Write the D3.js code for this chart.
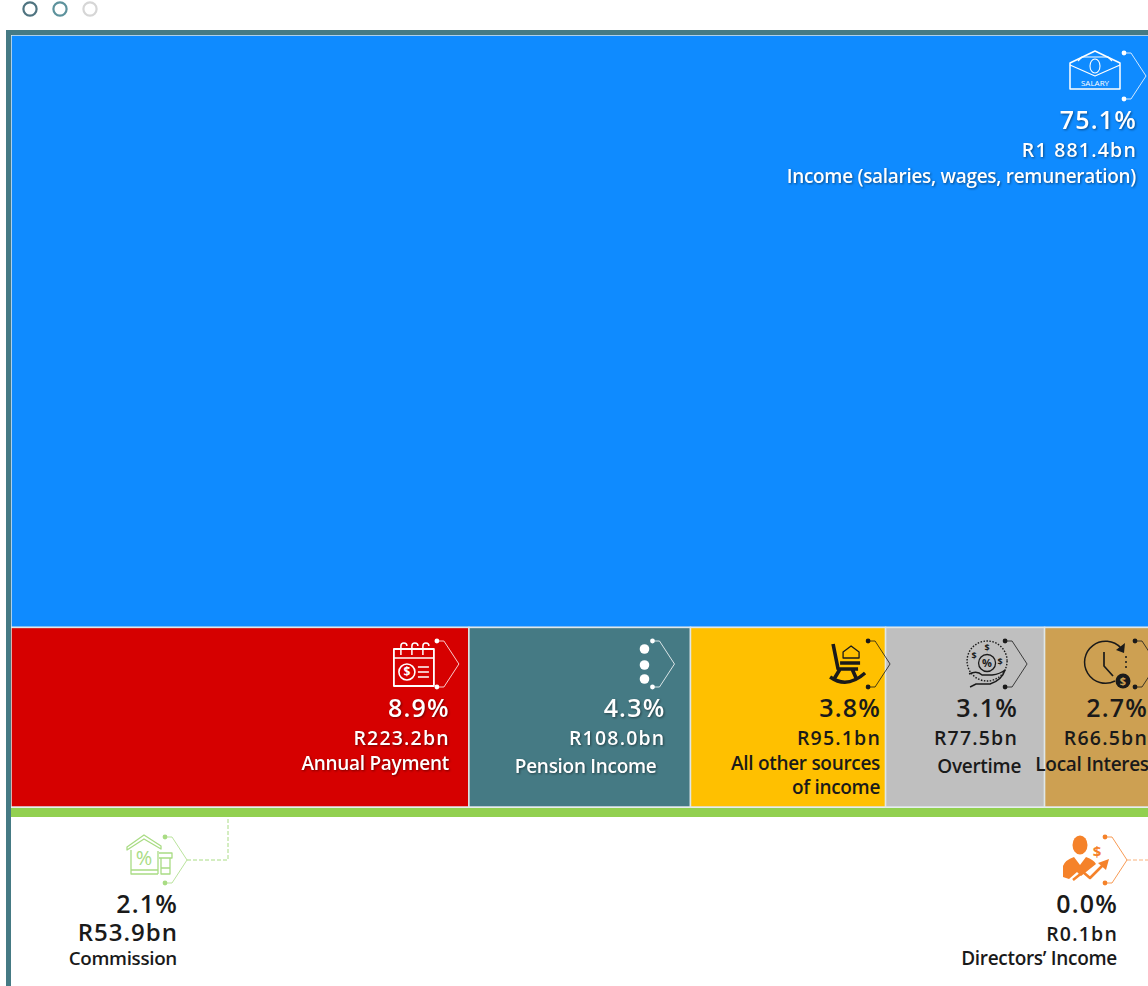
<!DOCTYPE html>
<html>
<head>
<meta charset="utf-8">
<script src="https://cdn.jsdelivr.net/npm/d3@7"></script>
<style>
  html, body { margin: 0; padding: 0; background: #fff; overflow: hidden; }
  svg { display: block; font-family: "Open Sans", "Noto Sans", sans-serif; }
  .lifted { filter: drop-shadow(1px 1px 1px rgba(0,0,0,.45)); }
</style>
</head>
<body>
<svg id="chart" width="1148" height="986"></svg>
<script>
// Income sources, R billion
const topSource = "Income (salaries, wages, remuneration)";
const topAmount = 1881.4;
const topShare = "75.1%";
const topAmountLabel = "R1 881.4bn";

const rowSources = ["Annual Payment", "Pension Income", "All other sources of income", "Overtime", "Local Interest"];
const rowAmounts = [223.2, 108.0, 95.1, 77.5, 66.5];
const rowShares = ["8.9%", "4.3%", "3.8%", "3.1%", "2.7%"];
const rowAmountLabels = ["R223.2bn", "R108.0bn", "R95.1bn", "R77.5bn", "R66.5bn"];

const smallSources = ["Commission", "Directors\u2019 Income"];
const smallShares = ["2.1%", "0.0%"];
const smallAmountLabels = ["R53.9bn", "R0.1bn"];

// Treemap: one full-width tile above a row of tiles
const root = d3.hierarchy({
  children: [
    { name: topSource, value: topAmount },
    { name: "row", children: rowSources.map((name, i) => ({ name, value: rowAmounts[i] })) }
  ]
}).sum(d => d.value || 0);

d3.treemap()
  .size([1170, 772])
  .tile((node, x0, y0, x1, y1) =>
    (node.depth === 0 ? d3.treemapSlice : d3.treemapDice)(node, x0, y0, x1, y1))(root);

const svg = d3.select("#chart");
const teal = "#457a84";

// Page dots
svg.selectAll("circle.page").data(["#4f7480", "#5d929c", "#d6d6d6"]).join("circle")
  .attr("class", "page").attr("cx", (d, i) => 30 + i * 30).attr("cy", 9).attr("r", 6.6)
  .attr("fill", "none").attr("stroke", d => d).attr("stroke-width", 2.2);

const tileFill = {
  [topSource]: "#0f8bff", "Annual Payment": "#d60000", "Pension Income": "#457a84",
  "All other sources of income": "#ffc000", "Overtime": "#bfbfbf", "Local Interest": "#cda052"
};

const plot = svg.append("g").attr("transform", "translate(11,35)");
const leaves = root.leaves();
plot.selectAll("rect").data(leaves).join("rect")
  .attr("x", d => d.x0).attr("y", d => d.y0)
  .attr("width", d => d.x1 - d.x0).attr("height", d => d.y1 - d.y0)
  .attr("fill", d => tileFill[d.data.name])
  .attr("stroke", "#dfe7e8").attr("stroke-width", 1.5);

// Strip along the bottom of the tiles
svg.append("rect").attr("x", 11).attr("y", 808).attr("width", 1137).attr("height", 9).attr("fill", "#92d050");

// Frame on the top and left edges
svg.append("rect").attr("x", 6).attr("y", 30).attr("width", 1142).attr("height", 5).attr("fill", teal);
svg.append("rect").attr("x", 6).attr("y", 30).attr("width", 5).attr("height", 956).attr("fill", teal);

// Bracket pointing right, its tip at the local origin
function bracket(g, color) {
  g.append("path")
    .attr("d", "M-22,-23H-15L0,0L-15,23H-22")
    .attr("fill", "none").attr("stroke", color).attr("stroke-width", 1).attr("opacity", .8);
  [-23, 23].forEach(y => g.append("circle").attr("cx", -22).attr("cy", y).attr("r", 2.4).attr("fill", color));
}

const line = (g, d, color, w = 1.6) => g.append("path").attr("d", d).attr("fill", "none")
  .attr("stroke", color).attr("stroke-width", w).attr("stroke-linejoin", "round");
const solid = (g, d, color) => g.append("path").attr("d", d).attr("fill", color);
const glyph = (g, text, x, y, size, color, weight = 600) => g.append("text").text(text)
  .attr("x", x).attr("y", y).attr("font-size", size).attr("font-weight", weight)
  .attr("text-anchor", "middle").attr("fill", color);

const icons = {
  salary(g, c) {
    line(g, "M-76,-13L-51,-25L-26,-13V13H-76Z", c, 1.5);
    line(g, "M-76,-11L-51,0L-26,-11", c, 1.2);
    line(g, "M-68,-15L-64,-19H-38L-34,-15", c, 1.2);
    g.append("ellipse").attr("cx", -51).attr("cy", -10).attr("rx", 5).attr("ry", 7)
      .attr("fill", "none").attr("stroke", c).attr("stroke-width", 1.1);
    glyph(g, "SALARY", -51, 10, 8, c, 400);
  },
  calendar(g, c) {
    line(g, "M-65,-15H-25V22H-65Z", c, 1.8);
    line(g, "M-65,-6H-25", c, 1.5);
    [-58, -47, -36].forEach(x => line(g, `M${x},-9V-18a3,3 0 0 1 6,0`, c, 1.5));
    g.append("circle").attr("cx", -52).attr("cy", 8).attr("r", 8).attr("fill", "none").attr("stroke", c).attr("stroke-width", 1.6);
    glyph(g, "$", -52, 12, 12, c, 700);
    line(g, "M-41,3H-30M-41,8H-30M-41,13H-30", c, 1.5);
  },
  dots(g, c) {
    [-15, 1, 15].forEach(y => g.append("circle").attr("cx", -30).attr("cy", y).attr("r", 4.8).attr("fill", c));
  },
  chair(g, c) {
    line(g, "M-57,-20L-52,5H-32M-50,-1H-30M-50,5L-56,15M-38,5L-34,14", c, 3.6);
    line(g, "M-60,13Q-43,25 -25,9", c, 3.4);
    line(g, "M-47,-12L-39,-18L-31,-12V-6H-47Z", c, 1.3);
  },
  hand(g, c) {
    g.append("circle").attr("cx", -40).attr("cy", -3).attr("r", 20).attr("fill", "none")
      .attr("stroke", c).attr("stroke-width", 1.4).attr("stroke-dasharray", "1.5 1.5");
    g.append("circle").attr("cx", -40).attr("cy", -1).attr("r", 8.5).attr("fill", "none").attr("stroke", c).attr("stroke-width", 1.3);
    glyph(g, "%", -40, 3, 11, c, 700);
    glyph(g, "$", -40, -13, 9, c, 700);
    glyph(g, "$", -53, -5, 9, c, 700);
    glyph(g, "$", -27, 1, 9, c, 700);
    line(g, "M-58,10Q-50,6 -45,11H-35Q-27,10 -22,6Q-25,16 -37,20H-51L-57,23", c, 1.4);
  },
  clock(g, c) {
    line(g, "M-36,-16A21,21 0 1 0 -42,17", c, 1.5);
    line(g, "M-53,-12V2L-44,12", c, 1.7);
    solid(g, "M-32,-21L-33,-11L-41,-14Z", c);
    line(g, "M-31,-8V6", c, 1.5).attr("stroke-dasharray", "2 3");
    g.append("circle").attr("cx", -34).attr("cy", 17).attr("r", 7.5).attr("fill", c);
    glyph(g, "$", -34, 21, 11, tileFill["Local Interest"], 700);
  },
  house(g, c) {
    line(g, "M-60,-13L-43,-25L-26,-14V-11L-43,-21L-60,-10Z", c, 1.3);
    line(g, "M-56,-10V14H-29M-29,-9V14M-56,10H-29", c, 1.3);
    line(g, "M-28,-7H-15V-2H-28M-26,-2V14H-17V-2M-26,8H-17", c, 1.3);
    glyph(g, "%", -43, 5, 20, c, 400);
  },
  director(g, c) {
    g.append("ellipse").attr("cx", -47).attr("cy", -15).attr("rx", 7.5).attr("ry", 9.5).attr("fill", c);
    solid(g, "M-64,17V6Q-62,0 -53,-3L-47,5L-41,-3Q-33,0 -31,4L-46,16L-50,12L-58,19Z", c);
    line(g, "M-54,20L-44,12L-37,18L-24,5", c, 2.6);
    solid(g, "M-18,-1L-21,10L-29,3Z", c);
    glyph(g, "$", -30, -3, 15, c, 700);
  }
};

// Tile labels, text right edge inset from the tile's right edge
const plotLeft = 11;
const lineGap = { amount: 28, name: 53 };

function drawLabel(right, top, color, lifted, share, amount, nameLines, iconName, iconColor, amountSize, nameSize, nameShift, nameDy) {
  const g = svg.append("g").attr("class", lifted ? "lifted" : null);
  g.append("text").text(share).attr("x", right + 1).attr("y", top)
    .attr("text-anchor", "end").attr("font-size", 25).attr("font-weight", 600)
    .attr("letter-spacing", 1.2).attr("fill", color);
  g.append("text").text(amount).attr("x", right + 1).attr("y", top + lineGap.amount)
    .attr("text-anchor", "end").attr("font-size", amountSize).attr("font-weight", 600)
    .attr("letter-spacing", amountSize > 20 ? 1 : 1.2).attr("fill", color);
  nameLines.forEach((t, i) => {
    g.append("text").text(t).attr("x", right + nameShift).attr("y", top + lineGap.name + nameDy + i * 24)
      .attr("text-anchor", "end").attr("font-size", nameSize).attr("font-weight", 600)
      .attr("letter-spacing", -.3).attr("fill", color);
  });
  const mark = svg.append("g").attr("transform", `translate(${right + 10},${top - 53})`);
  bracket(mark, iconColor);
  icons[iconName](mark, iconColor);
}

// Inset of each label from its tile's right edge, and how far its name sits from that label edge
const rowInsets = [20, 26, 5.5, 27.5, 34];
const rowNameShifts = [0, -8, 0, 4, 9];
const rowNameDys = [0, 3, 0, 3, 1];
const rowNameLines = [["Annual Payment"], ["Pension Income"], ["All other sources", "of income"], ["Overtime"], ["Local Interest"]];
const rowIcons = ["calendar", "dots", "chair", "hand", "clock"];
const rowInk = ["#fff", "#fff", "#1a1a1a", "#1a1a1a", "#1a1a1a"];

const topLeaf = leaves[0];
drawLabel(topLeaf.x1 + plotLeft - 45, 129, "#fff", true, topShare, topAmountLabel,
  [topSource], "salary", "#fff", 19.5, 19, 0, 1);
leaves.slice(1).forEach((leaf, i) => {
  drawLabel(leaf.x1 + plotLeft - rowInsets[i], 717, rowInk[i], i < 2, rowShares[i], rowAmountLabels[i],
    rowNameLines[i], rowIcons[i], rowInk[i], 19.5, 19, rowNameShifts[i], rowNameDys[i]);
});

// Small sources sit below the tiles, tied to the strip by dashed leaders
const smallRight = [177, 1117];
const smallInk = ["#a9dc84", "#f5822a"];
const smallIcons = ["house", "director"];
const smallAmountSizes = [24, 19.5];
const smallNameSizes = [18.8, 19];
smallSources.forEach((name, i) => {
  drawLabel(smallRight[i], 913, "#1a1a1a", false, smallShares[i], smallAmountLabels[i],
    [name], smallIcons[i], smallInk[i], smallAmountSizes[i], smallNameSizes[i], 0, -1);
});
svg.append("path").attr("d", "M187,860H228V817").attr("fill", "none").attr("stroke", smallInk[0]).attr("stroke-dasharray", "4 2");
svg.append("path").attr("d", "M1127,860H1148").attr("fill", "none").attr("stroke", "#f9b27c").attr("stroke-dasharray", "4 2");
</script>
</body>
</html>
